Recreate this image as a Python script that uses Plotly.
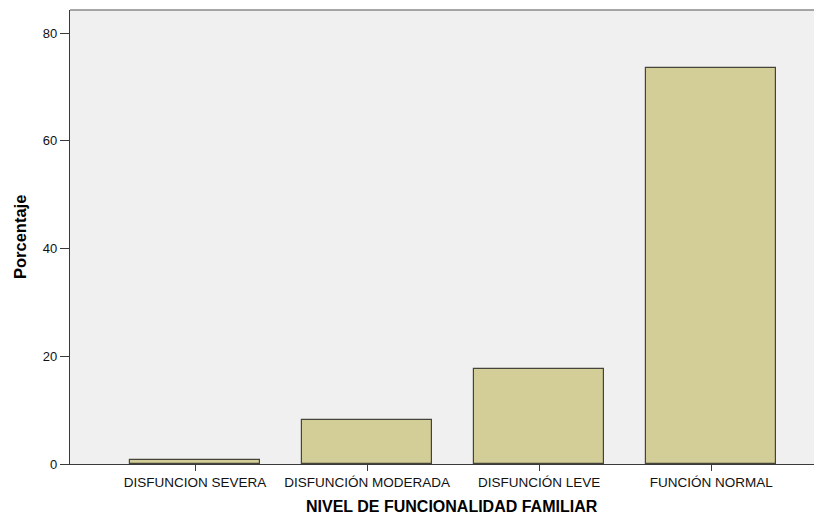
import plotly.graph_objects as go

categories = ["DISFUNCION SEVERA", "DISFUNCIÓN MODERADA", "DISFUNCIÓN LEVE", "FUNCIÓN NORMAL"]
percentages = [0.7, 8.1, 17.6, 73.5]
y_ticks = [0, 20, 40, 60, 80]

FONT = "Arial, 'Liberation Sans', sans-serif"

# page has an 8px body margin; size the figure to fit the 822x514 window
fig = go.Figure(
    go.Bar(
        x=categories,
        y=percentages,
        width=0.756,
        marker=dict(color="#D3CE97", line=dict(color="#45443A", width=1.2)),
        hoverinfo="x+y",
    )
)

fig.update_layout(
    width=814,
    height=506,
    margin=dict(l=62, r=0, t=2, b=50),
    paper_bgcolor="white",
    plot_bgcolor="#F0F0F0",
    font=dict(family=FONT, color="#111111"),
    showlegend=False,
    bargap=0,
)

fig.update_xaxes(
    type="category",
    range=[-0.727, 3.644],
    automargin=False,
    showgrid=False,
    showline=True,
    linecolor="#3A3A3A",
    linewidth=1.3,
    ticks="outside",
    ticklen=6,
    tickcolor="#3A3A3A",
    tickfont=dict(size=13.5, family=FONT, color="#111111"),
    zeroline=False,
)

fig.update_yaxes(
    range=[0, 84.3],
    automargin=False,
    tickvals=y_ticks,
    ticktext=[str(v) for v in y_ticks],
    showgrid=False,
    showline=True,
    linecolor="#3A3A3A",
    linewidth=1.3,
    ticks="outside",
    ticklen=9,
    tickcolor="#3A3A3A",
    tickfont=dict(size=13, family=FONT, color="#111111"),
    zeroline=False,
)

fig.add_shape(type="line", xref="paper", yref="paper", x0=0, x1=1, y0=1, y1=1,
              line=dict(color="#8A8A8A", width=1.5))

fig.add_annotation(text="NIVEL DE FUNCIONALIDAD FAMILIAR", xref="paper", yref="paper",
                   x=(452 - 70) / 752, y=-(506 - 464) / 454, xanchor="center", yanchor="middle",
                   showarrow=False, font=dict(size=16, family=FONT, weight="bold", color="#000000"))
fig.add_annotation(text="Porcentaje", xref="paper", yref="paper",
                   x=-(70 - 20) / 752, y=0.5, xanchor="center", yanchor="middle", textangle=-90,
                   showarrow=False, font=dict(size=16.5, family=FONT, weight="bold", color="#000000"))

fig.write_html("out.html")
